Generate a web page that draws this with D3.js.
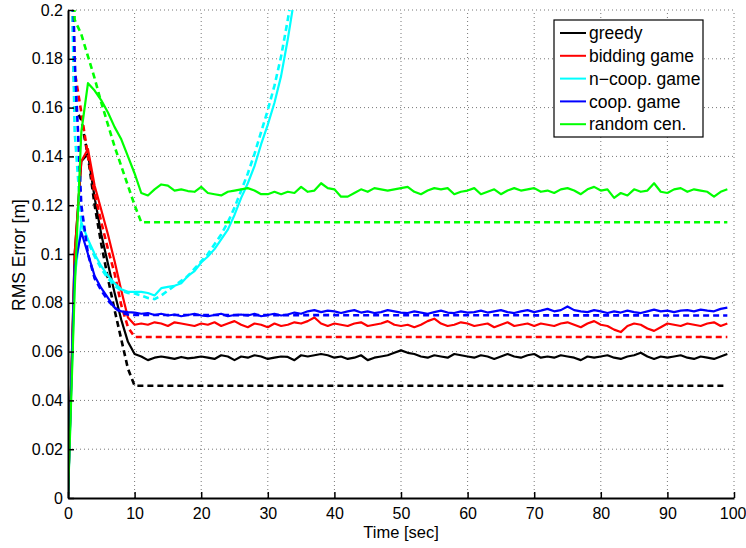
<!DOCTYPE html>
<html><head><meta charset="utf-8">
<script src="https://cdn.jsdelivr.net/npm/d3@7"></script>
<style>body{margin:0;background:#fff}svg{display:block}text{font-family:"Liberation Sans",Arial,sans-serif}</style>
</head><body><svg id="c" width="746" height="548"></svg>
<script>
// ---- data ----
const seriesNames = ["greedy","bidding game","n\u2212coop. game","coop. game","random cen."];
const seriesColors = ["#000000","#ff0000","#00ffff","#0000ff","#00ff00"];
const xTicks = [0,10,20,30,40,50,60,70,80,90,100];
const yTicks = [0,0.02,0.04,0.06,0.08,0.1,0.12,0.14,0.16,0.18,0.2];
const yTickLabels = ["0","0.02","0.04","0.06","0.08","0.1","0.12","0.14","0.16","0.18","0.2"];

// solid lines, sampled every second from t=0
const greedySolid = [0,0.10,0.138,0.141,0.123,0.108,0.096,0.084,0.073,0.064,0.059,
 0.058,0.0565,0.0575,0.058,0.0575,0.057,0.0578,0.0572,0.0575,0.058,
 0.0575,0.057,0.0585,0.058,0.0565,0.058,0.0575,0.0585,0.058,0.057,
 0.0575,0.058,0.0578,0.0565,0.0585,0.058,0.0585,0.059,0.0585,0.0575,
 0.058,0.057,0.0575,0.0585,0.0565,0.0575,0.058,0.0585,0.0595,0.0605,
 0.0595,0.059,0.058,0.0575,0.0585,0.058,0.0575,0.059,0.0585,0.058,
 0.0575,0.0585,0.058,0.057,0.058,0.059,0.058,0.0575,0.0585,0.059,
 0.0575,0.058,0.0575,0.0585,0.058,0.0575,0.0565,0.058,0.0575,0.058,
 0.0585,0.0575,0.057,0.058,0.0585,0.0595,0.058,0.057,0.058,0.0575,
 0.058,0.0585,0.0575,0.057,0.058,0.0575,0.057,0.058,0.059];
const biddingSolid = [0,0.10,0.138,0.143,0.128,0.118,0.108,0.097,0.085,0.074,0.071,
 0.0715,0.071,0.072,0.0715,0.0705,0.072,0.0715,0.071,0.0705,0.0715,
 0.071,0.072,0.0705,0.0715,0.0725,0.071,0.070,0.0715,0.071,0.070,
 0.0715,0.0705,0.071,0.072,0.0715,0.0725,0.074,0.0715,0.0705,0.0715,
 0.071,0.0705,0.0715,0.072,0.0705,0.071,0.0715,0.0725,0.071,0.0705,
 0.071,0.070,0.071,0.0725,0.0735,0.0715,0.0705,0.071,0.072,0.0715,
 0.0705,0.071,0.0715,0.070,0.071,0.072,0.0705,0.071,0.0715,0.0705,
 0.0715,0.071,0.0705,0.0715,0.072,0.071,0.070,0.0715,0.0725,0.071,
 0.0705,0.069,0.068,0.0705,0.0715,0.071,0.0695,0.0685,0.070,0.0715,
 0.071,0.0705,0.0715,0.071,0.0705,0.0715,0.072,0.0705,0.0715];
const ncoopSolid = [0,0.09,0.113,0.106,0.1,0.095,0.091,0.088,0.0855,0.0845,0.0845,
 0.0845,0.084,0.083,0.086,0.0865,0.087,0.088,0.091,0.093,0.0965,
 0.099,0.102,0.106,0.110,0.116,0.123,0.129,0.136,0.145,0.153,
 0.162,0.173,0.188,0.205];
const coopSolid = [0,0.095,0.109,0.1,0.091,0.086,0.082,0.078,0.0765,0.0762,0.076,
 0.0755,0.0758,0.075,0.0755,0.0748,0.0752,0.0745,0.075,0.0755,0.0748,
 0.0745,0.075,0.0755,0.0745,0.075,0.0752,0.0748,0.0755,0.0745,0.075,
 0.0755,0.0748,0.0752,0.076,0.0755,0.0765,0.077,0.0762,0.0768,0.0765,
 0.0758,0.0765,0.077,0.076,0.0765,0.0758,0.0762,0.077,0.0765,0.076,
 0.0758,0.0765,0.076,0.0755,0.0762,0.0768,0.076,0.0758,0.0765,0.076,
 0.0762,0.0768,0.076,0.0765,0.077,0.0762,0.0758,0.0765,0.077,0.0762,
 0.0768,0.0775,0.0765,0.077,0.0785,0.077,0.0765,0.0762,0.077,0.0765,
 0.0758,0.0765,0.076,0.0768,0.0762,0.0758,0.0765,0.0772,0.0765,0.0768,
 0.0762,0.0768,0.077,0.0765,0.0772,0.0768,0.0765,0.0775,0.078];
const randomSolid = [0,0.085,0.15,0.17,0.167,0.163,0.158,0.152,0.147,0.14,0.133,
 0.125,0.124,0.1265,0.1285,0.128,0.126,0.1265,0.1258,0.1255,0.1275,
 0.125,0.1245,0.124,0.1255,0.126,0.1265,0.127,0.126,0.1245,0.1245,
 0.1255,0.1245,0.1255,0.125,0.1275,0.1255,0.126,0.129,0.127,0.1265,
 0.1235,0.1235,0.125,0.1265,0.1255,0.127,0.1265,0.126,0.1265,0.127,
 0.1275,0.1255,0.1245,0.126,0.127,0.1265,0.127,0.1245,0.1255,0.126,
 0.127,0.1245,0.1255,0.1265,0.1245,0.126,0.127,0.126,0.1265,0.127,
 0.1255,0.126,0.125,0.1265,0.127,0.126,0.1245,0.1265,0.1275,0.126,
 0.1265,0.123,0.125,0.124,0.1265,0.1255,0.126,0.129,0.1255,0.125,
 0.1265,0.127,0.1255,0.1265,0.126,0.1255,0.1235,0.1255,0.1265];

// dashed lines: breakpoints (time, value)
const dashT = [0,1,2,3,4,5,6,7,8,9,10,99];
const greedyDashed  = [0.3,0.16,0.155,0.14,0.12,0.104,0.09,0.077,0.065,0.053,0.046,0.046];
const biddingDashed = [0.3,0.175,0.158,0.14,0.125,0.113,0.102,0.092,0.079,0.07,0.066,0.066];
const coopDashed    = [0.3,0.18,0.12,0.1,0.09,0.085,0.081,0.078,0.076,0.0752,0.075,0.0748];
const ncoopDashT = [0,1,2,3,4,5,6,7,8,9,10,11,12,13,14,15,16,17,18,19,20,21,22,23,24,25,26,27,28,29,30,31,32,33,34];
const ncoopDashed = [0.3,0.15,0.113,0.105,0.099,0.094,0.09,0.087,0.085,0.084,0.0838,
 0.083,0.082,0.0815,0.083,0.085,0.087,0.089,0.091,0.094,0.097,
 0.1,0.104,0.108,0.113,0.119,0.126,0.133,0.141,0.15,0.159,
 0.169,0.181,0.196,0.213];
const randomDashT = [0,1,2,3,4,5,6,7,8,9,10,11,99];
const randomDashed = [0.3,0.196,0.19,0.181,0.172,0.162,0.153,0.144,0.136,0.128,0.12,0.113,0.113];

// ---- chart ----
const W=746,H=548, L=68, R=734, T=10, B=498;
const svg=d3.select("#c");
svg.append("rect").attr("width",W).attr("height",H).attr("fill","#fff");
const x=d3.scaleLinear().domain([0,100]).range([L,R]);
const y=d3.scaleLinear().domain([0,0.2]).range([B,T]);

// grid
const g=svg.append("g");
g.selectAll(".gx").data(xTicks.slice(1)).enter().append("line")
 .attr("x1",d=>x(d)).attr("x2",d=>x(d)).attr("y1",B).attr("y2",T)
 .attr("stroke","#777").attr("stroke-width",1).attr("stroke-dasharray","1,3");
g.selectAll(".gy").data(yTicks.slice(1)).enter().append("line")
 .attr("x1",L).attr("x2",R).attr("y1",d=>y(d)).attr("y2",d=>y(d))
 .attr("stroke","#777").attr("stroke-width",1).attr("stroke-dasharray","1,3");

svg.append("clipPath").attr("id","clip").append("rect")
 .attr("x",L).attr("y",T).attr("width",R-L).attr("height",B-T);
const plot=svg.append("g").attr("clip-path","url(#clip)");

const line=d3.line().x(d=>x(d[0])).y(d=>y(d[1]));
const solids=[greedySolid,biddingSolid,ncoopSolid,coopSolid,randomSolid];
const dashed=[[dashT,greedyDashed],[dashT,biddingDashed],[ncoopDashT,ncoopDashed],[dashT,coopDashed],[randomDashT,randomDashed]];
solids.forEach((s,i)=>{
  plot.append("path").attr("d",line(s.map((v,k)=>[k,v])))
   .attr("fill","none").attr("stroke",seriesColors[i]).attr("stroke-width",2.2).attr("stroke-linejoin","round");
  const [tt,vv]=dashed[i];
  plot.append("path").attr("d",line(vv.map((v,k)=>[tt[k],v])))
   .attr("fill","none").attr("stroke",seriesColors[i]).attr("stroke-width",2.6).attr("stroke-dasharray","6,4");
});

// axes
const xAxis=d3.axisBottom(x).tickValues(xTicks).tickSizeInner(-6).tickSizeOuter(0).tickPadding(10);
const yAxis=d3.axisLeft(y).tickValues(yTicks).tickFormat((d,i)=>yTickLabels[i]).tickSizeInner(-6).tickSizeOuter(0).tickPadding(5);
const ax=svg.append("g").attr("transform",`translate(0,${B})`).call(xAxis);
const ay=svg.append("g").attr("transform",`translate(${L},0)`).call(yAxis);
[ax,ay].forEach(a=>{
  a.select(".domain").attr("stroke","#000").attr("stroke-width",2);
  a.selectAll(".tick line").attr("stroke","#000").attr("stroke-width",1.5);
  a.selectAll("text").attr("fill","#000").style("font-size","16px").style("font-family","'Liberation Sans',Arial,sans-serif");
});
ax.selectAll("text").attr("dy","0.71em");
ax.selectAll(".tick text").filter(d=>d===100).attr("text-anchor","end").attr("dx","12");

svg.append("text").attr("x",(L+R)/2).attr("y",538).attr("text-anchor","middle")
 .style("font-size","16.5px").text("Time [sec]");
svg.append("text").attr("transform","translate(25,255) rotate(-90)").attr("text-anchor","middle")
 .style("font-size","17.5px").text("RMS Error [m]");

// legend
const lg=svg.append("g");
lg.append("rect").attr("x",554).attr("y",20).attr("width",149).attr("height",117)
 .attr("fill","#fff").attr("stroke","#000").attr("stroke-width",1.2);
seriesNames.forEach((n,i)=>{
  const yy=33+i*22.8;
  lg.append("line").attr("x1",560).attr("x2",586).attr("y1",yy).attr("y2",yy)
   .attr("stroke",seriesColors[i]).attr("stroke-width",2);
  lg.append("text").attr("x",589).attr("y",yy).attr("dy","0.35em").style("font-size","17.5px").text(n);
});
</script></body></html>
